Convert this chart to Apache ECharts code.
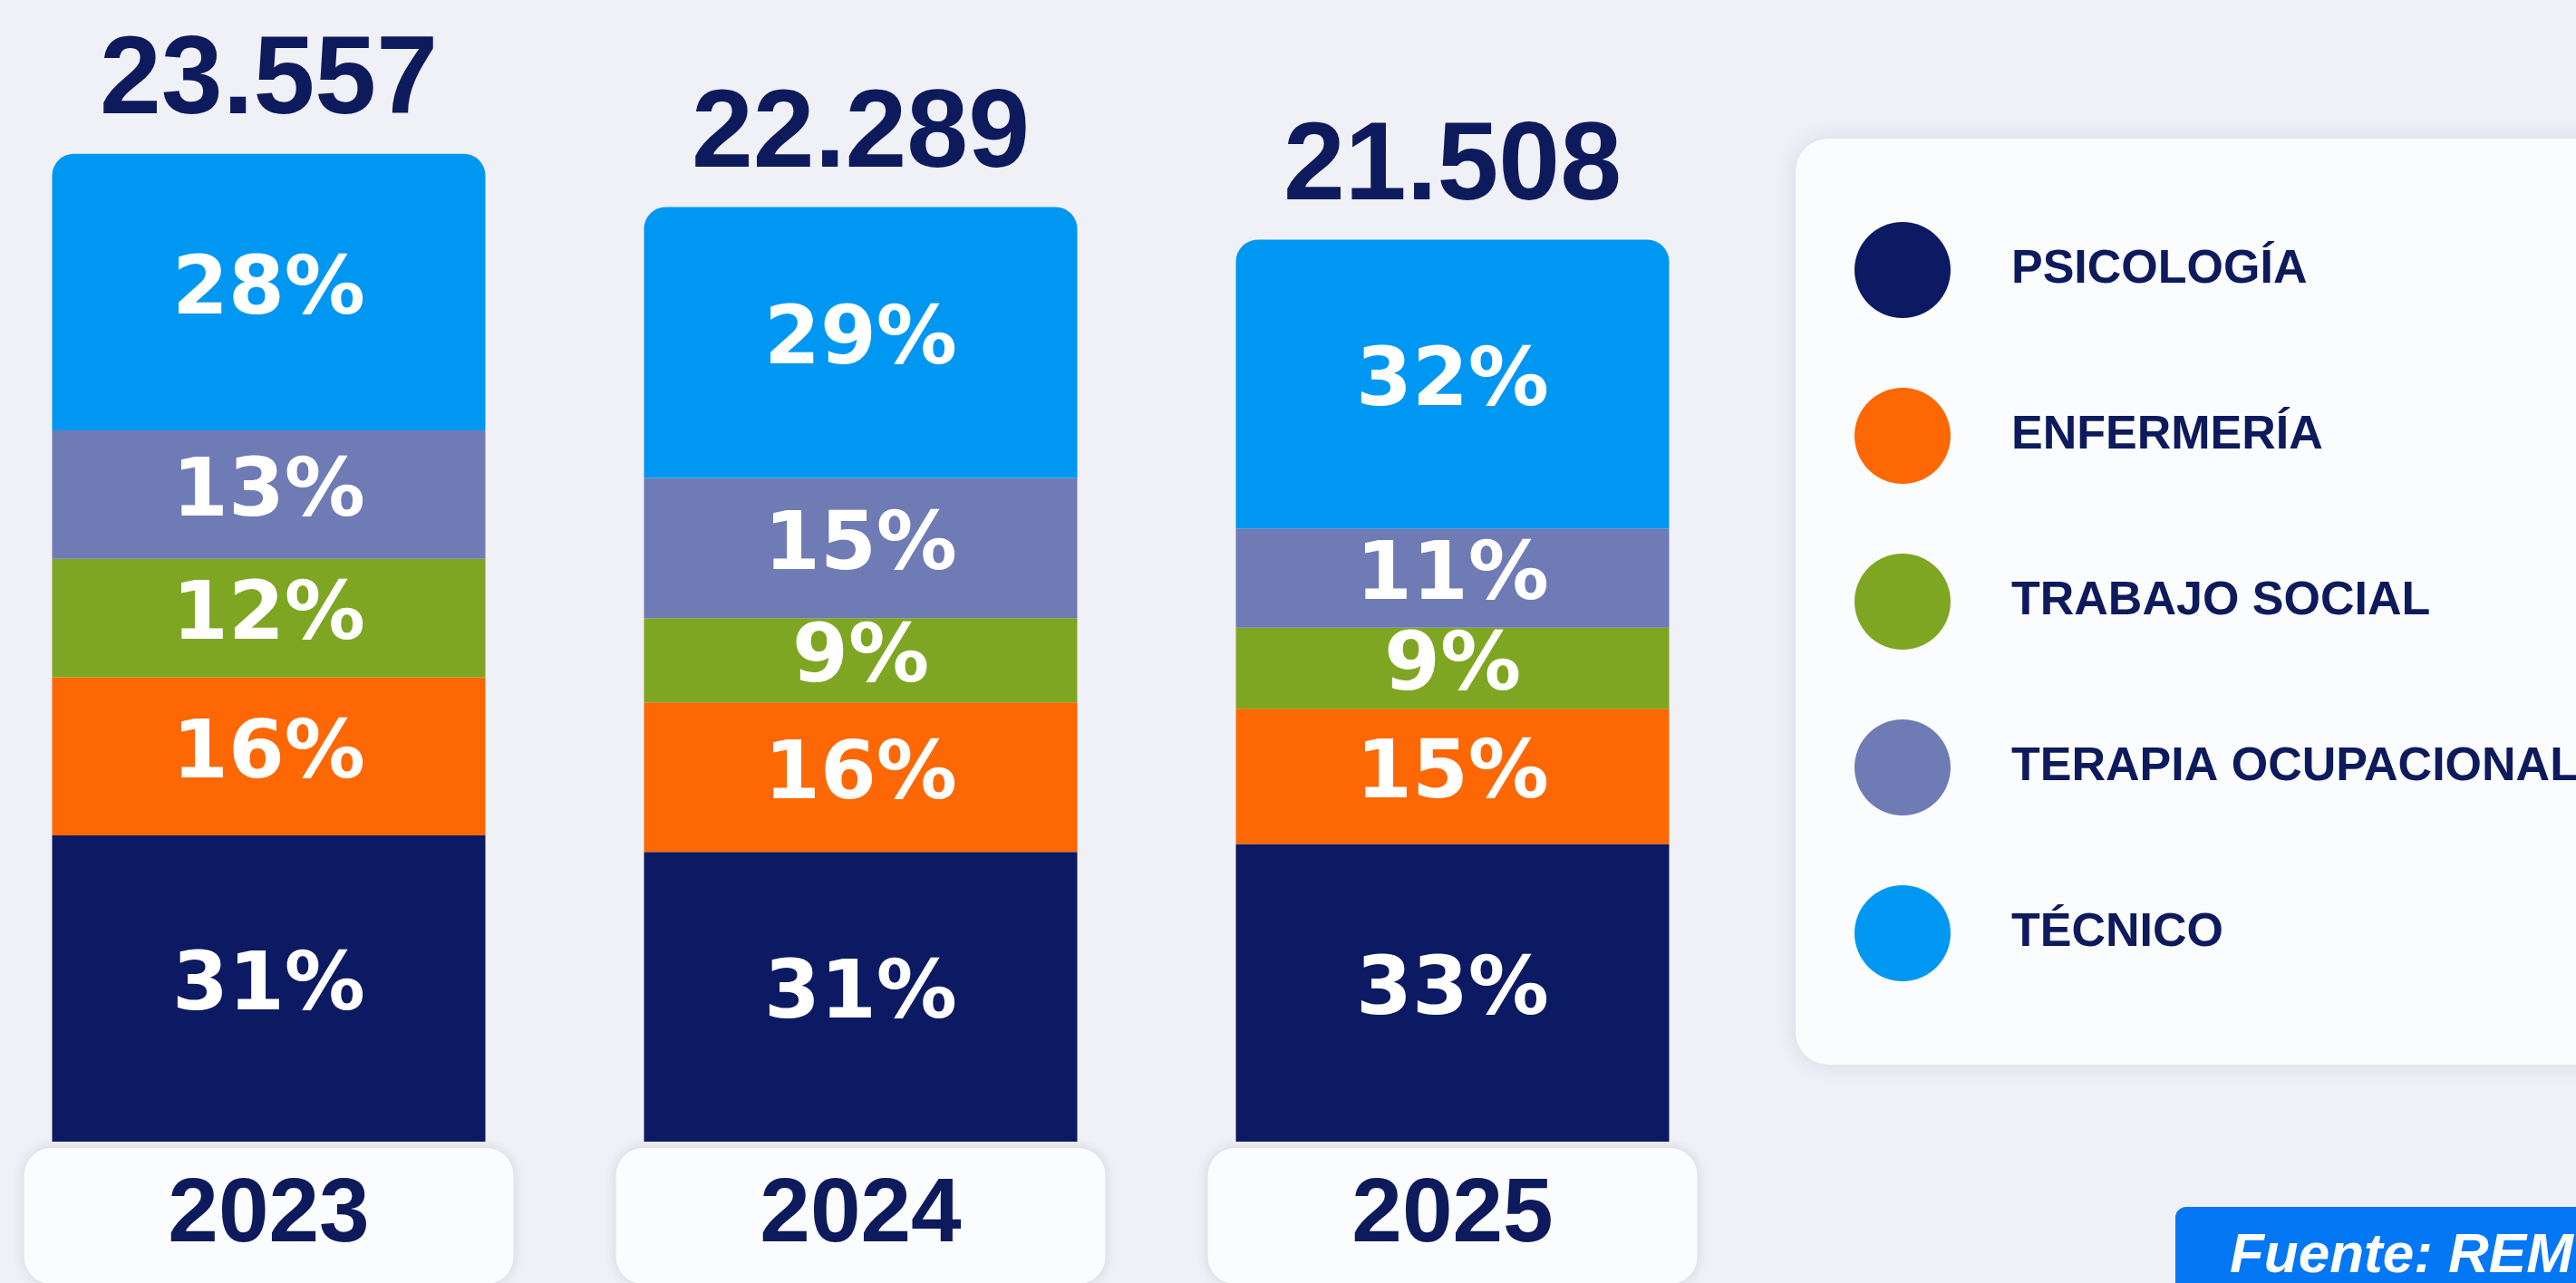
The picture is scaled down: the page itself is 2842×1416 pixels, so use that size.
<!DOCTYPE html>
<html lang="es">
<head>
  <meta charset="utf-8">
  <style>
    html, body { margin: 0; padding: 0; width: 100%; height: 100%; background: #f0f1f6; }
    #container { width: 2842px; height: 1416px; }
  </style>
  <title>Distribución por profesión</title>
</head>
<body>
  <div id="container"></div>

  <script type="text/javascript" src="https://fastly.jsdelivr.net/npm/echarts@6.0.0/dist/echarts.min.js"></script>
  <script type="text/javascript">
    var years = ['2023', '2024', '2025'];
    var totals = [23557, 22289, 21508];
    var categories = ['PSICOLOGÍA', 'ENFERMERÍA', 'TRABAJO SOCIAL', 'TERAPIA OCUPACIONAL', 'TÉCNICO'];
    var psicologia = [31, 31, 33];
    var enfermeria = [16, 16, 15];
    var trabajoSocial = [12, 9, 9];
    var terapiaOcupacional = [13, 15, 11];
    var tecnico = [28, 29, 32];

    var shares = [psicologia, enfermeria, trabajoSocial, terapiaOcupacional, tecnico];
    var colors = ['#0b1a62', '#fd6704', '#7fa622', '#6e7bb5', '#0097f3'];
    var navy = '#0d1a5c';
    var sans = '"Liberation Sans", Arial, sans-serif';

    function fmtMiles(v) {
      return String(v).replace(/\B(?=(\d{3})+(?!\d))/g, '.');
    }

    var chartDom = document.getElementById('container');
    var myChart = echarts.init(chartDom);

    var series = categories.map(function (name, s) {
      return {
        name: name,
        type: 'bar',
        stack: 'total',
        barWidth: 478,
        itemStyle: {
          color: colors[s],
          borderRadius: s === categories.length - 1 ? [24, 24, 0, 0] : 0
        },
        label: {
          show: true,
          position: 'inside',
          color: '#ffffff',
          fontFamily: '"DejaVu Sans", sans-serif',
          fontWeight: 'bold',
          fontSize: 89,
          formatter: function (p) { return shares[s][p.dataIndex] + '%'; }
        },
        data: totals.map(function (t, i) { return t * shares[s][i] / 100; })
      };
    });

    // totales sobre cada barra
    series.push({
      name: 'total',
      type: 'scatter',
      symbolSize: 0,
      silent: true,
      itemStyle: { opacity: 1 },
      label: {
        show: true,
        position: 'top',
        distance: 17,
        color: navy,
        fontFamily: sans,
        fontWeight: 'bold',
        fontSize: 122,
        lineHeight: 122,
        formatter: function (p) { return fmtMiles(p.value); }
      },
      data: totals
    });

    var option = {
      backgroundColor: '#f0f1f6',
      animation: false,
      grid: { left: -30, right: 913, top: 103, bottom: 156, outerBoundsMode: 'none', containLabel: false },
      legend: {
        data: categories,
        orient: 'vertical',
        left: 2041,
        top: 240,
        icon: 'circle',
        itemWidth: 106,
        itemHeight: 106,
        itemGap: 77,
        selectedMode: false,
        textStyle: {
          color: navy,
          fontFamily: sans,
          fontWeight: 'bold',
          fontSize: 52,
          padding: [0, 0, 0, 62]
        }
      },
      xAxis: {
        type: 'category',
        data: years,
        axisLine: { show: false },
        axisTick: { show: false },
        axisLabel: {
          margin: 7,
          color: navy,
          fontFamily: sans,
          fontWeight: 'bold',
          fontSize: 100,
          lineHeight: 150,
          width: 540,
          height: 150,
          align: 'center',
          backgroundColor: '#fbfcfe',
          borderRadius: 30,
          shadowBlur: 14,
          shadowColor: 'rgba(20, 30, 80, 0.14)'
        }
      },
      yAxis: {
        type: 'value',
        min: 0,
        max: 25000,
        show: false,
        splitLine: { show: false }
      },
      graphic: [
        {
          type: 'rect',
          z: -1,
          shape: { x: 1981, y: 153, width: 1000, height: 1022, r: 36 },
          style: { fill: '#fbfcfe', shadowBlur: 22, shadowColor: 'rgba(30, 40, 90, 0.13)' }
        },
        {
          type: 'rect',
          shape: { x: 2400, y: 1332, width: 500, height: 120, r: [12, 0, 0, 0] },
          style: { fill: '#0477f5' }
        },
        {
          type: 'text',
          x: 2460,
          y: 1356,
          style: {
            text: 'Fuente: REM',
            fill: '#ffffff',
            font: 'italic bold 62px "Liberation Sans", sans-serif',
            verticalAlign: 'top'
          }
        }
      ],
      series: series
    };

    myChart.setOption(option);
  </script>
</body>
</html>
